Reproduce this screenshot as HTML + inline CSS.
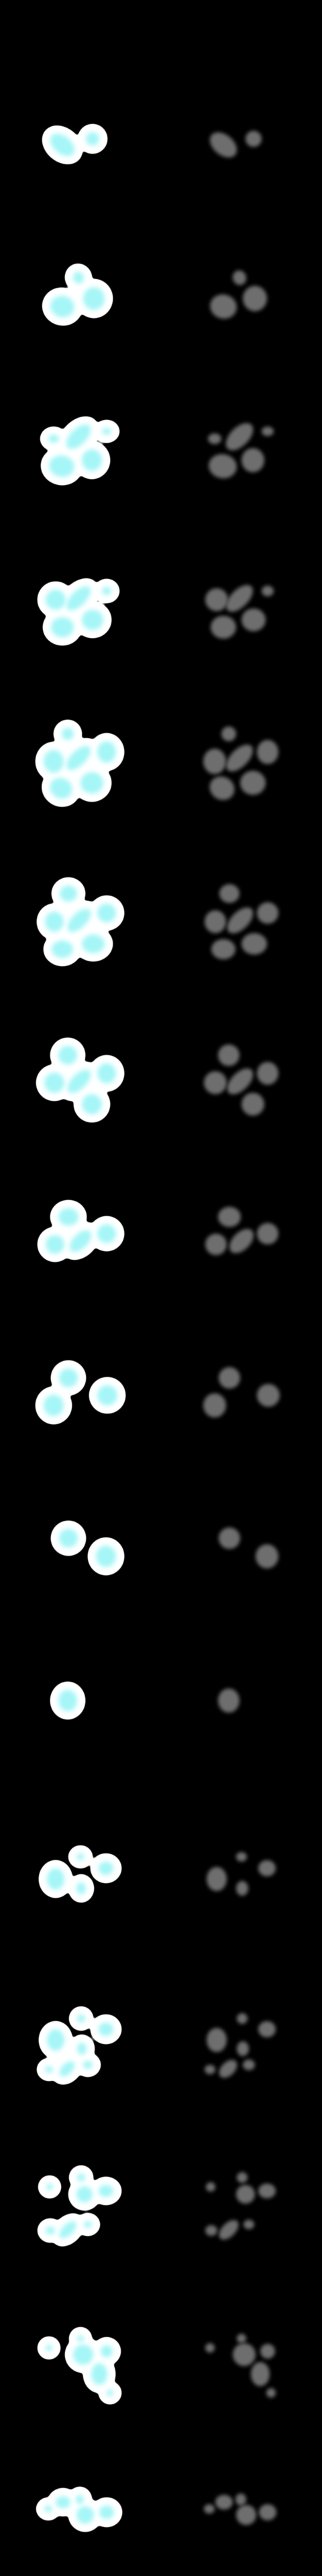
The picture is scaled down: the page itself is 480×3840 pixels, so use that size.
<!DOCTYPE html>
<html><head><meta charset="utf-8"><style>
html,body{margin:0;padding:0;background:#000;}
svg{display:block;}
</style></head><body>
<svg id="chart" width="480" height="3840" viewBox="0 0 480 3840" xmlns="http://www.w3.org/2000/svg">
<defs>
<filter id="coreBlur" x="-50%" y="-50%" width="200%" height="200%"><feGaussianBlur stdDeviation="3.5"/></filter>
<filter id="grayBlur" x="-50%" y="-50%" width="200%" height="200%"><feGaussianBlur stdDeviation="3"/></filter>
<filter id="haloMerge" x="-20%" y="-20%" width="140%" height="140%"><feGaussianBlur stdDeviation="2.5" result="b"/><feComponentTransfer><feFuncA type="linear" slope="4" intercept="-1.2"/></feComponentTransfer></filter>
</defs>
<rect x="0" y="0" width="480" height="3840" fill="#000"/>
<g id="halos" filter="url(#haloMerge)"></g>
<g id="cores"></g>
<g id="grays"></g>
</svg>
<script>
const blobX = [93,138, 93,140,117, 80,117,159,92,137, 83,117,159,93,138, 101,80,117,159,91,137, 102,81,118,159,93,139, 101,81,118,159,137, 102,82,120,159, 102,80,160, 102,158, 101, 120,83,158,121, 121,83,158,122,73,100,131, 74,121,126,158,75,101,131, 73,120,124,159,148,164, 72,94,119,127,159];
const blobY = [216,207, 457,445,414, 654,651,643,695,686, 894,892,881,935,924, 1094,1135,1130,1121,1175,1167, 1332,1374,1372,1361,1415,1407, 1573,1614,1612,1600,1646, 1814,1855,1850,1839, 2054,2095,2080, 2293,2320, 2535, 2768,2801,2785,2815, 3009,3041,3025,3054,3085,3084,3078, 3260,3246,3271,3266,3325,3324,3316, 3500,3486,3510,3505,3539,3567, 3740,3730,3726,3749,3745];
const blobRx = [21,10, 18,16,8, 8,23,7,19,15, 15,23,7,17,16, 9,15,23,14,17,17, 13,14,22,14,16,17, 14,15,22,14,15, 15,14,20,14, 14,15,15, 14,15, 14, 6,13,11,7, 6,13,11,7,6,14,7, 5,6,12,11,7,16,6, 5,5,15,9,12,5, 6,11,6,13,11];
const blobRy = [13,10, 16,17,9, 6,12,5,16,16, 15,11,6,15,15, 9,17,11,16,15,16, 12,15,11,14,13,14, 14,15,11,15,15, 13,14,11,14, 14,16,15, 14,16, 16, 5,16,10,9, 6,16,10,9,5,8,6, 5,6,12,9,6,8,5, 5,5,15,9,16,5, 5,9,7,13,10];
const blobRot = [40,0, 15,0,-20, 0,-45,0,10,0, 0,-45,0,0,0, 0,0,-45,0,30,0, 0,0,-45,0,0,0, 0,0,-45,0,0, 0,0,-45,0, 0,0,0, 0,0, 0, 0,0,0,0, 0,0,0,0,0,-45,0, 0,0,0,0,0,-45,0, 0,0,0,0,0,0, 0,0,0,0,0];
const rightOffset = 240;

const NS = 'http://www.w3.org/2000/svg';
const halos = document.getElementById('halos');
const cores = document.getElementById('cores');
const grays = document.getElementById('grays');
function ell(g, cx, cy, rx, ry, rot, fill, filt) {
  const e = document.createElementNS(NS, 'ellipse');
  e.setAttribute('cx', cx); e.setAttribute('cy', cy);
  e.setAttribute('rx', rx); e.setAttribute('ry', ry);
  e.setAttribute('transform', 'rotate(' + rot + ' ' + cx + ' ' + cy + ')');
  e.setAttribute('fill', fill);
  if (filt) e.setAttribute('filter', filt);
  g.appendChild(e);
  return e;
}
for (let i = 0; i < blobX.length; i++) {
  const h = ell(halos, blobX[i], blobY[i], blobRx[i] + 12, blobRy[i] + 12, blobRot[i], '#fff', null);
  
  
}
for (let i = 0; i < blobX.length; i++) {
  const c = ell(cores, blobX[i], blobY[i], blobRx[i], blobRy[i], blobRot[i], '#a6f6f7', 'url(#coreBlur)');
  
  
  const g = ell(grays, blobX[i] + rightOffset, blobY[i], blobRx[i] + 2, blobRy[i] + 2, blobRot[i], '#6e6e6e', 'url(#grayBlur)');
  
  
}
</script>
</body></html>
